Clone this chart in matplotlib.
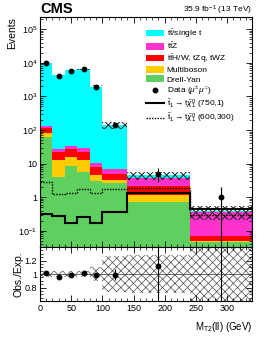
import numpy as np
import matplotlib
matplotlib.use("Agg")
import matplotlib.pyplot as plt
from matplotlib.patches import Patch
from matplotlib.lines import Line2D
from matplotlib.ticker import FixedLocator, FuncFormatter, LogLocator, MultipleLocator, NullFormatter

plt.rcParams['font.family'] = ['Liberation Sans', 'DejaVu Sans']
plt.rcParams['mathtext.fontset'] = 'custom'
plt.rcParams['mathtext.rm'] = 'Liberation Sans'
plt.rcParams['mathtext.it'] = 'Liberation Sans:italic'
plt.rcParams['mathtext.bf'] = 'Liberation Sans:bold'
plt.rcParams['hatch.linewidth'] = 0.5

# ---------------- data ----------------
edges = [0, 20, 40, 60, 80, 100, 140, 240, 340]
centers = [10, 30, 50, 70, 90, 120, 190, 290]
drell_yan = [60, 3.9, 8.5, 5.8, 3.1, 2.6, 0.71, 0.047]
multiboson = [23, 8.9, 7.5, 7.0, 1.5, 0.7, 0.46, 0.001]
ttx = [31, 9.2, 10.6, 9.8, 3.5, 1.6, 1.03, 0.023]
ttz = [17, 4.6, 6.4, 6.4, 2.6, 2.2, 1.6, 0.30]
ttbar = [9569, 4183, 5857, 6441, 1929, 134.3, 0.66, 0.005]
data = [9800, 4000, 5800, 6600, 1900, 140, 5, 1]
unc_frac = [0.04, 0.04, 0.04, 0.04, 0.10, 0.26, 0.28, 0.45]
sig_750_1 = [0.32, 0.27, 0.176, 0.25, 0.17, 0.37, 1.31, 0.44]
sig_600_300 = [2.9, 1.25, 1.37, 1.77, 1.37, 1.77, 1.85, 0.30]

labels = [r"t$\bar{\rm t}$/single t", r"t$\bar{\rm t}$Z", r"t$\bar{\rm t}$H/W, tZq, tWZ",
          "Multiboson", "Drell-Yan"]
colors = ['#00ffff', '#ff33cc', '#ff0000', '#ffcc00', '#5fcf5f']

# ---------------- figure ----------------
W, H = 266, 347
fig = plt.figure(figsize=(W / 100, H / 100), dpi=100)
L, R = 40 / W, 252 / W
ax = fig.add_axes([L, 1 - 247 / H, R - L, (247 - 17) / H])
axr = fig.add_axes([L, 1 - 301 / H, R - L, (301 - 247) / H])

edges_a = np.array(edges, float)
comps = [drell_yan, multiboson, ttx, ttz, ttbar]
comp_colors = [colors[4], colors[3], colors[2], colors[1], colors[0]]
base = np.full(len(data), 1e-3)
for vals, col in zip(comps, comp_colors):
    top = base + np.array(vals, float)
    ax.stairs(top, edges_a, baseline=base, fill=True, color=col, lw=0)
    base = top
total = base

unc = np.array(unc_frac) * total
for _ in range(2):
    ax.stairs(total + unc, edges_a, baseline=total - unc, fill=True, facecolor='none',
              edgecolor='0.15', hatch='xxxx', lw=0)

ax.stairs(sig_750_1, edges_a, baseline=None, color='black', lw=1.5)
ax.stairs(sig_600_300, edges_a, baseline=None, color='black', lw=1.0, ls=(0, (1, 1)))

d = np.array(data, float)
ax.errorbar(centers, d, yerr=np.sqrt(d), fmt='o', color='black', ms=3.2, lw=0.8, capsize=0)

ax.set_yscale('log')
ax.set_xlim(0, 340)
ax.set_ylim(0.033, 2.3e5)

def ylab(v, pos):
    e = int(round(np.log10(v)))
    if e == 0:
        return '1'
    if e == 1:
        return '10'
    return r'10$^{%d}$' % e

ax.yaxis.set_major_locator(FixedLocator([1e-1, 1, 10, 1e2, 1e3, 1e4, 1e5]))
ax.yaxis.set_major_formatter(FuncFormatter(ylab))
ax.yaxis.set_minor_locator(LogLocator(base=10, subs=np.arange(2, 10), numticks=20))
ax.yaxis.set_minor_formatter(NullFormatter())
ax.xaxis.set_major_locator(MultipleLocator(50))
ax.xaxis.set_minor_locator(MultipleLocator(10))
ax.tick_params(axis='x', labelbottom=False)

for a in (ax, axr):
    a.tick_params(which='both', direction='in', top=True, right=True, labelsize=6.5, pad=2)
    a.tick_params(which='major', length=4, width=0.6)
    a.tick_params(which='minor', length=2, width=0.5)
    for s in a.spines.values():
        s.set_linewidth(0.8)

ax.set_ylabel('Events', fontsize=7.5, loc='top', labelpad=1)

# legend
handles = [Patch(facecolor=c, edgecolor='none') for c in colors]
handles.append(Line2D([], [], marker='o', color='black', ls='none', ms=3.2))
handles.append(Line2D([], [], color='black', lw=1.5))
handles.append(Line2D([], [], color='black', lw=1.0, ls=(0, (1, 1))))
leg_labels = labels + [r"Data ($\mu^{\pm}\mu^{\mp}$)",
                       r"$\tilde{\rm t}_1\rightarrow{\rm t}\tilde{\chi}^0_1$ (750,1)",
                       r"$\tilde{\rm t}_1\rightarrow{\rm t}\tilde{\chi}^0_1$ (600,300)"]
ax.legend(handles, leg_labels, loc='upper left', bbox_to_anchor=(0.5, 0.955),
          frameon=False, fontsize=6, handlelength=2.2, handleheight=0.9,
          labelspacing=0.12, borderpad=0, handletextpad=0.3, borderaxespad=0)

fig.text(L, 1 - 9 / H, 'CMS', fontsize=10.5, fontweight='bold', ha='left', va='center')
fig.text(R, 1 - 10 / H, r'35.9 fb$^{-1}$ (13 TeV)', fontsize=6, ha='right', va='center')

# ---------------- ratio ----------------
ratio = d / total
rerr = np.sqrt(d) / total
uf = np.array(unc_frac)
axr.stairs(1 + uf, edges_a, baseline=1 - uf, fill=True, facecolor='none',
           edgecolor='0.3', hatch='xxxx', lw=0)
axr.axhline(1, color='0.3', lw=0.6)
axr.errorbar(centers, ratio, yerr=rerr, fmt='o', color='black', ms=3.2, lw=0.8, capsize=0)
axr.set_xlim(0, 340)
axr.set_ylim(0.6, 1.4)
axr.yaxis.set_major_locator(FixedLocator([0.8, 1.0, 1.2]))
axr.yaxis.set_major_formatter(FuncFormatter(lambda v, p: '1' if abs(v - 1) < 1e-6 else '%.1f' % v))
axr.yaxis.set_minor_locator(MultipleLocator(0.05))
axr.xaxis.set_major_locator(MultipleLocator(50))
axr.xaxis.set_minor_locator(MultipleLocator(10))
axr.set_ylabel('Obs./Exp.', fontsize=7.5, labelpad=1)
axr.set_xlabel(r'M$_{\rm T2}$(ll) (GeV)', fontsize=7, loc='right', labelpad=5)

fig.savefig('out.png', dpi=100)
